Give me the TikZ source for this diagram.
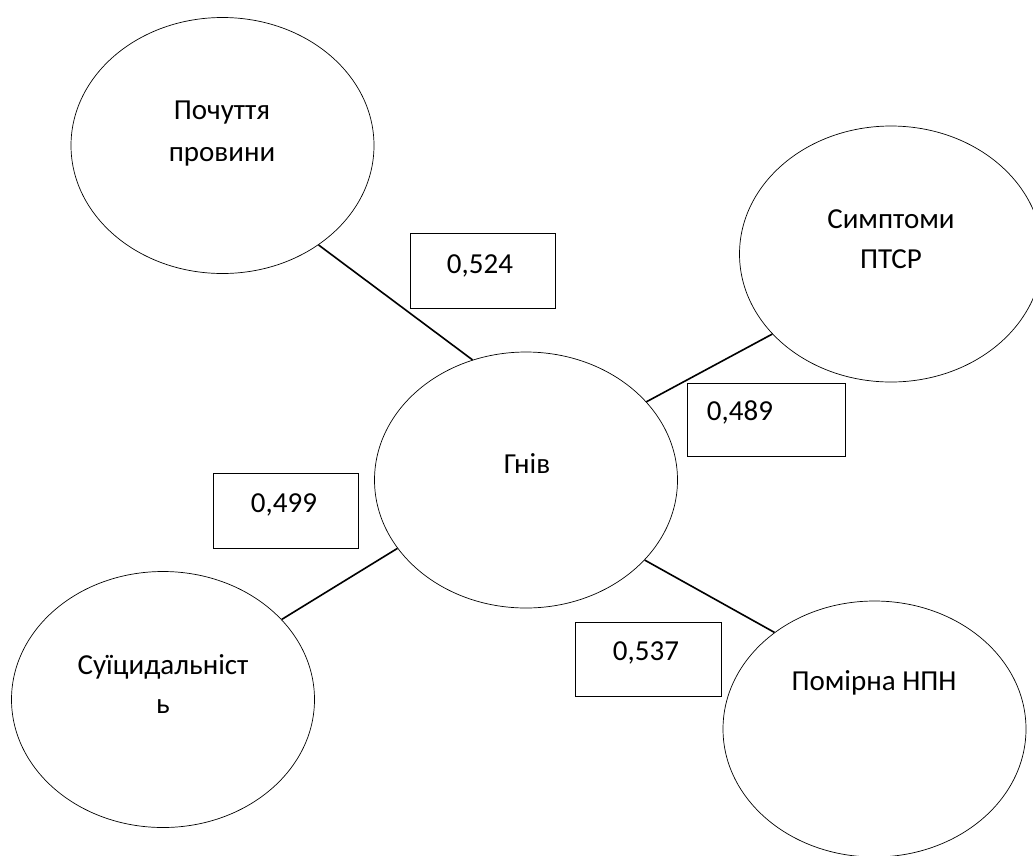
\documentclass[tikz,border=0pt]{standalone}
\usepackage{fontspec}
\setmainfont{Carlito}
\usetikzlibrary{shapes.geometric}
\begin{document}
\begin{tikzpicture}[x=1pt,y=-1pt,
  ell/.style={draw,ellipse,line width=0.7pt,inner sep=0pt,minimum width=303pt,minimum height=256pt},
  valbox/.style={draw,rectangle,line width=0.7pt,inner sep=0pt},
  lbl/.style={anchor=base,inner sep=0pt,font=\fontsize{29}{35}\selectfont},
  link/.style={line width=1.6pt}]
\useasboundingbox (0,0) rectangle (1033,855);
\fill[white] (0,0) rectangle (1033,855);
% ellipses
\node[ell] (pp) at (222.5,145.5) {};
\node[ell] (pt) at (891,254) {};
\node[ell] (gn) at (526,480) {};
\node[ell] (su) at (163,699.5) {};
\node[ell] (np) at (874.5,729) {};
% ellipse texts
\node[lbl] (ppa) at (222,119) {Почуття};
\node[lbl] (ppb) at (222,161) {провини};
\node[lbl] (pta) at (891,228) {Симптоми};
\node[lbl] (ptb) at (891,268) {ПТСР};
\node[lbl] (gna) at (527,473) {Гнів};
\node[lbl] (sua) at (163,674) {Суїцидальніст};
\node[lbl] (sub) at (163,713) {ь};
\node[lbl] (npa) at (874,690) {Помірна НПН};
% value boxes
\node[valbox,minimum width=145pt,minimum height=75pt] (b1) at (482.5,270.5) {};
\node[valbox,minimum width=158pt,minimum height=73pt] (b2) at (766,419.5) {};
\node[valbox,minimum width=145pt,minimum height=75pt] (b3) at (285.5,510.5) {};
\node[valbox,minimum width=146pt,minimum height=74pt] (b4) at (648,659) {};
\node[lbl] (v1) at (480,273) {0,524};
\node[lbl] (v2) at (740,420) {0,489};
\node[lbl] (v3) at (284,512) {0,499};
\node[lbl] (v4) at (646,660) {0,537};
% connectors
\draw[link] (pp.-46.8) -- (gn.114.4);
\draw[link] (gn.33.4) -- (pt.-146.8);
\draw[link] (su.34.4) -- (gn.-152);
\draw[link] (gn.-34.9) -- (np.136);
\end{tikzpicture}
\end{document}
